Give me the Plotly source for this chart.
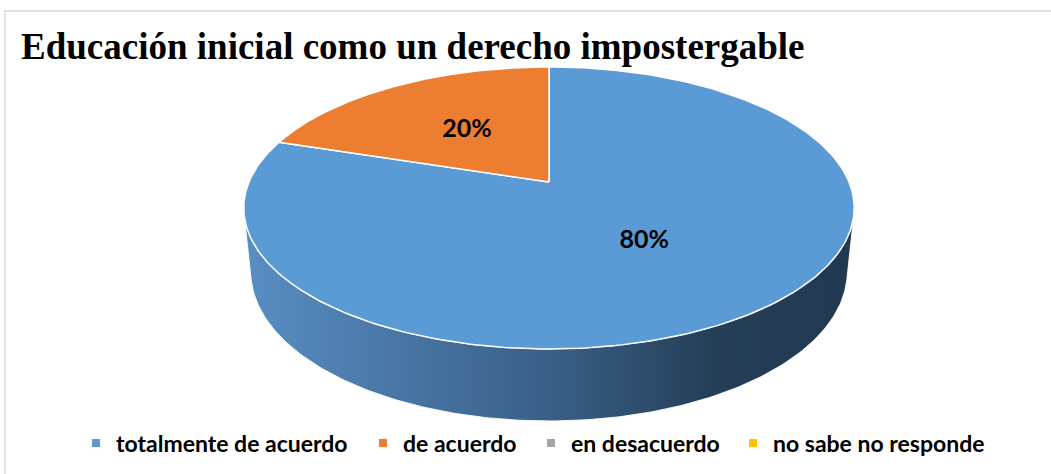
import numpy as np
import plotly.graph_objects as go

# ---------------- data ----------------
title_text = "Educación inicial como un derecho impostergable"
categories = ["totalmente de acuerdo", "de acuerdo", "en desacuerdo", "no sabe no responde"]
values = [80, 20, 0, 0]
slice_labels = ["80%", "20%", "0%", "0%"]
colors = ["#5B9BD5", "#ED7D31", "#A5A5A5", "#FFC000"]
side_scales = [
    [[0.0, "#588DC2"], [0.5, "#395F88"], [0.78, "#243E56"], [1.0, "#223A51"]],
    [[0.0, "#E8803A"], [0.5, "#A85A22"], [1.0, "#6E3A15"]],
    [[0.0, "#A5A5A5"], [1.0, "#555555"]],
    [[0.0, "#FFC000"], [1.0, "#8A6800"]],
]

# ---------------- geometry of the 3D view (pixels) ----------------
W, H_PX = 1051, 474
CX, CY = 549.0, 182.0          # projected pie centre
FOC = 1452.0                   # focal length
DIST = 4.84                    # camera distance (in radii)
TILT = np.radians(27.0)        # elevation
THICK = 0.24                   # pie thickness (in radii)
S, C = np.sin(TILT), np.cos(TILT)


def project(x, y, z=0.0):
    d = DIST + y * C - z * S
    return CX + FOC * x / d, CY - FOC * (y * S + z * C) / d


def arc(t0, t1, z=0.0, n=200):
    t = np.linspace(t0, t1, n)
    return project(np.cos(t), np.sin(t), z)


total = float(sum(values))
fr = np.array(values, dtype=float) / total
cum = np.concatenate([[0.0], np.cumsum(fr)])
# slices start at 12 o'clock and run clockwise
theta_start = np.pi / 2 - 2 * np.pi * cum[:-1]
theta_end = np.pi / 2 - 2 * np.pi * cum[1:]

# visible front part of the cylinder wall
a = np.arcsin(1.0 / (DIST * C))
front0, front1 = np.pi + a, 2 * np.pi - a

fig = go.Figure()

# side walls
for i in range(len(values)):
    if values[i] <= 0:
        continue
    lo, hi = theta_end[i], theta_start[i]
    for k in range(-2, 3):
        l2, h2 = lo + 2 * np.pi * k, hi + 2 * np.pi * k
        s0, s1 = max(l2, front0), min(h2, front1)
        if s1 <= s0:
            continue
        tx, ty = arc(s0, s1, 0.0)
        bx, by = arc(s1, s0, -THICK)
        xs = np.concatenate([tx, bx, tx[:1]])
        ys = np.concatenate([ty, by, ty[:1]])
        xl, _ = project(-1.0, 0.0)
        xr, _ = project(1.0, 0.0)
        fig.add_trace(go.Scatter(
            x=xs, y=ys, mode="lines", fill="toself",
            line=dict(color="rgba(255,255,255,0.9)", width=1),
            fillgradient=dict(type="horizontal", colorscale=side_scales[i],
                              start=xl, stop=xr),
            hoverinfo="skip", showlegend=False))

# top faces
for i in range(len(values)):
    if values[i] <= 0:
        continue
    ax_, ay_ = arc(theta_start[i], theta_end[i], 0.0, 300)
    cx0, cy0 = project(0.0, 0.0)
    xs = np.concatenate([[cx0], ax_, [cx0]])
    ys = np.concatenate([[cy0], ay_, [cy0]])
    fig.add_trace(go.Scatter(
        x=xs, y=ys, mode="lines", fill="toself", fillcolor=colors[i],
        line=dict(color="white", width=1.5),
        name=categories[i], hoverinfo="skip", showlegend=False))

# data labels
lx, ly, lt = [], [], []
for i in range(len(values)):
    if values[i] <= 0:
        continue
    tm = 0.5 * (theta_start[i] + theta_end[i])
    px, py = project(0.5 * np.cos(tm), 0.5 * np.sin(tm))
    lx.append(px)
    ly.append(py)
    lt.append(slice_labels[i])
fig.add_trace(go.Scatter(
    x=lx, y=ly, mode="text", text=lt,
    textfont=dict(family="Lato", size=25, color="black", weight="bold"),
    hoverinfo="skip", showlegend=False))

# legend entries (one legend per item to mimic Excel spacing)
legend_text_x = [116, 403, 571, 773]
legend_names = ["legend", "legend2", "legend3", "legend4"]
for i in range(len(categories)):
    fig.add_trace(go.Scatter(
        x=[None], y=[None], mode="markers", name=categories[i],
        marker=dict(symbol="square", size=8, color=colors[i]),
        legend=legend_names[i], hoverinfo="skip"))

legend_common = dict(
    font=dict(family="Lato", size=23, color="black", weight="bold"),
    bgcolor="rgba(0,0,0,0)", borderwidth=0, yanchor="middle",
    xanchor="left", orientation="h", y=1 - 443 / H_PX)
leg_layout = {}
for i, nm in enumerate(legend_names):
    d = dict(legend_common)
    d["x"] = (legend_text_x[i] - 40) / W
    leg_layout[nm] = d

fig.update_layout(
    width=W, height=H_PX, autosize=False,
    margin=dict(l=0, r=0, t=0, b=0),
    paper_bgcolor="white", plot_bgcolor="white",
    title=dict(text=title_text, x=21 / W, xanchor="left", xref="paper",
               y=1 - 46 / H_PX, yanchor="middle", yref="paper",
               font=dict(family="Liberation Serif", size=37, color="black",
                         weight="bold")),
    xaxis=dict(range=[0, W], visible=False, fixedrange=True),
    yaxis=dict(range=[H_PX, 0], visible=False, fixedrange=True),
    shapes=[dict(type="path", path=f"M 5 {H_PX} L 5 11 L {W} 11",
                 xref="x", yref="y", line=dict(color="#D9D9D9", width=1.5),
                 layer="below")],
    **leg_layout,
)

fig.write_html("out.html",
               config={"displayModeBar": False},
               post_script="document.body.style.margin='0px';"
                           "document.body.style.overflow='hidden';")
